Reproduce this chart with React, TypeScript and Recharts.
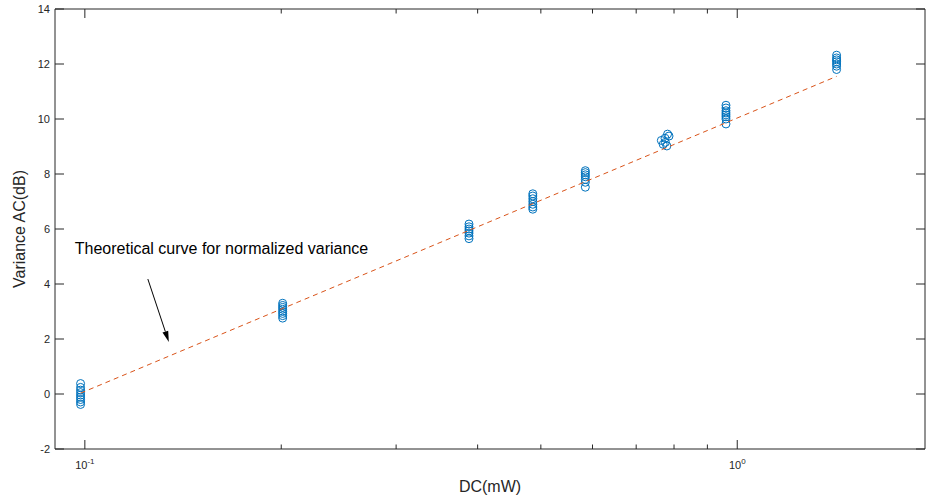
import React from "react";
import {
  ScatterChart,
  Scatter,
  XAxis,
  YAxis,
  ReferenceLine,
  ReferenceDot,
} from "recharts";

// DC power levels (mW) where the variance was measured
const dcLevels = [0.0985, 0.201, 0.388, 0.486, 0.585, 0.77, 0.961, 1.42];

// variance readings (dB) at each DC level
const varianceReadings: number[][] = [
  [0.38, 0.24, 0.14, 0.05, -0.04, -0.12, -0.2, -0.29, -0.38],
  [3.3, 3.22, 3.15, 3.08, 3.0, 2.93, 2.85, 2.76],
  [6.18, 6.08, 6.0, 5.93, 5.85, 5.75, 5.65],
  [7.28, 7.2, 7.1, 7.0, 6.9, 6.8, 6.72],
  [8.12, 8.05, 7.97, 7.9, 7.8, 7.7, 7.52],
  [9.45, 9.38, 9.3, 9.22, 9.15, 9.08, 9.02],
  [10.5, 10.4, 10.3, 10.22, 10.15, 10.08, 10.0, 9.82],
  [12.32, 12.22, 12.15, 12.08, 12.0, 11.92, 11.8],
];

// the 0.77 mW group is spread out a little along x
const dcReadings077 = [0.782, 0.786, 0.775, 0.765, 0.776, 0.77, 0.78];

// theoretical curve for normalized variance
const theoryDc = [0.0985, 1.42];
const theoryVariance = [0.03, 11.55];

const xTicks = [0.1, 0.2, 0.3, 0.4, 0.5, 0.6, 0.7, 0.8, 0.9, 1];
const xMajor = [0.1, 1];
const yTicks = [-2, 0, 2, 4, 6, 8, 10, 12, 14];

const measured = varianceReadings.flatMap((row, i) =>
  row.map((v, j) => ({
    dc: i === 5 ? dcReadings077[j] : dcLevels[i],
    variance: v,
  }))
);
const theory = theoryDc.map((dc, i) => ({ dc, variance: theoryVariance[i] }));

const AXIS = "#262626";
const BLUE = "#0072BD";
const ORANGE = "#D95319";

const XTickBottom = (props: any) => {
  const { x, y, payload } = props;
  const major = xMajor.includes(payload.value);
  return (
    <g>
      <line x1={x} x2={x} y1={y} y2={y - (major ? 9 : 4.5)} stroke={AXIS} />
      {major && (
        <text x={x} y={y + 20} textAnchor="middle" fontSize={11} fill={AXIS}>
          10
          <tspan dy={-5} fontSize={8}>
            {Math.round(Math.log10(payload.value))}
          </tspan>
        </text>
      )}
    </g>
  );
};

const XTickTop = (props: any) => {
  const { x, y, payload } = props;
  const major = xMajor.includes(payload.value);
  return <line x1={x} x2={x} y1={y} y2={y + (major ? 9 : 4.5)} stroke={AXIS} />;
};

const YTickLeft = (props: any) => {
  const { x, y, payload } = props;
  return (
    <g>
      <line x1={x} x2={x + 9} y1={y} y2={y} stroke={AXIS} />
      <text x={x - 5} y={y} dy="0.35em" textAnchor="end" fontSize={11} fill={AXIS}>
        {payload.value}
      </text>
    </g>
  );
};

const YTickRight = (props: any) => {
  const { x, y } = props;
  return <line x1={x} x2={x - 9} y1={y} y2={y} stroke={AXIS} />;
};

const Ring = (p: any) => (
  <circle cx={p.cx} cy={p.cy} r={4} fill="none" stroke={BLUE} strokeWidth={1} />
);

const Arrow = (p: any) => {
  const { x1, y1, x2, y2 } = p;
  const a = Math.atan2(y2 - y1, x2 - x1);
  const len = 11;
  const w = 3;
  const bx = x2 - len * Math.cos(a);
  const by = y2 - len * Math.sin(a);
  const pts = [
    [x2, y2],
    [bx + w * Math.sin(a), by - w * Math.cos(a)],
    [bx - w * Math.sin(a), by + w * Math.cos(a)],
  ]
    .map((q) => q.join(","))
    .join(" ");
  return (
    <g>
      <line x1={x1} y1={y1} x2={bx} y2={by} stroke="#000" strokeWidth={1} />
      <polygon points={pts} fill="#000" />
    </g>
  );
};

export default function App() {
  return (
    <div
      style={{
        position: "absolute",
        left: 0,
        top: 0,
        width: 928,
        height: 497,
        background: "#fff",
        fontFamily: "'Liberation Sans', Arial, sans-serif",
      }}
    >
      <ScatterChart width={928} height={497} margin={{ top: 0, right: 0, bottom: 0, left: 0 }}>
        <XAxis
          xAxisId="bottom"
          dataKey="dc"
          type="number"
          scale="log"
          domain={[0.09, 1.94]}
          allowDataOverflow
          ticks={xTicks}
          interval={0}
          height={48}
          tickSize={0}
          tickMargin={0}
          tick={<XTickBottom />}
          stroke={AXIS}
          label={{
            content: (lp: any) => {
              const vb = lp.viewBox;
              return (
                <text
                  x={vb.x + vb.width / 2}
                  y={vb.y + 43}
                  textAnchor="middle"
                  fontSize={16}
                  fill={AXIS}
                >
                  DC(mW)
                </text>
              );
            },
          }}
        />
        <XAxis
          xAxisId="top"
          orientation="top"
          dataKey="dc"
          type="number"
          scale="log"
          domain={[0.09, 1.94]}
          allowDataOverflow
          ticks={xTicks}
          interval={0}
          height={9}
          tickSize={0}
          tickMargin={0}
          tick={<XTickTop />}
          stroke={AXIS}
        />
        <YAxis
          yAxisId="left"
          dataKey="variance"
          type="number"
          domain={[-2, 14]}
          allowDataOverflow
          ticks={yTicks}
          interval={0}
          width={55}
          tickSize={0}
          tickMargin={0}
          tick={<YTickLeft />}
          stroke={AXIS}
          label={{
            content: (lp: any) => {
              const vb = lp.viewBox;
              const cx = vb.x + 19;
              const cy = vb.y + vb.height / 2;
              return (
                <text
                  x={cx}
                  y={cy}
                  transform={`rotate(-90, ${cx}, ${cy})`}
                  textAnchor="middle"
                  dominantBaseline="central"
                  fontSize={16}
                  fill={AXIS}
                >
                  Variance AC(dB)
                </text>
              );
            },
          }}
        />
        <YAxis
          yAxisId="right"
          orientation="right"
          dataKey="variance"
          type="number"
          domain={[-2, 14]}
          allowDataOverflow
          ticks={yTicks}
          interval={0}
          width={3}
          tickSize={0}
          tickMargin={0}
          tick={<YTickRight />}
          stroke={AXIS}
        />
        <Scatter
          xAxisId="bottom"
          yAxisId="left"
          data={measured}
          shape={<Ring />}
          isAnimationActive={false}
        />
        <Scatter
          xAxisId="bottom"
          yAxisId="left"
          data={theory}
          fill={ORANGE}
          line={{ stroke: ORANGE, strokeWidth: 1, strokeDasharray: "5 4" }}
          shape={() => <g />}
          isAnimationActive={false}
        />
        <ReferenceLine
          xAxisId="bottom"
          yAxisId="left"
          segment={[
            { x: 0.1249, y: 4.18 },
            { x: 0.1345, y: 1.89 },
          ]}
          ifOverflow="visible"
          shape={(p: any) => <Arrow {...p} />}
        />
        <ReferenceDot
          xAxisId="bottom"
          yAxisId="left"
          x={0.0965}
          y={5.3}
          ifOverflow="visible"
          shape={(p: any) => (
            <text x={p.cx} y={p.cy} dominantBaseline="central" fontSize={16} fill="#000">
              Theoretical curve for normalized variance
            </text>
          )}
        />
      </ScatterChart>
    </div>
  );
}
